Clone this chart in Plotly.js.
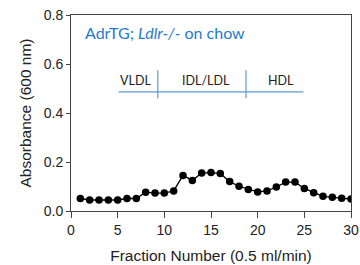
<!DOCTYPE html>
<html><head><meta charset="utf-8">
<script src="https://cdn.plot.ly/plotly-3.0.1.min.js"></script>
<style>html,body{margin:0;padding:0;background:#fff}#chart{width:360px;height:265px}</style>
</head><body><div id="chart"></div>
<script>
const fractions = [1,2,3,4,5,6,7,8,9,10,11,12,13,14,15,16,17,18,19,20,21,22,23,24,25,26,27,28,29,30];
const absorbance = [0.051,0.045,0.045,0.045,0.045,0.051,0.051,0.077,0.073,0.073,0.082,0.145,0.125,0.155,0.157,0.153,0.120,0.101,0.088,0.078,0.082,0.098,0.118,0.118,0.092,0.075,0.060,0.056,0.052,0.049];
const regionLabels = ['VLDL','IDL/LDL','HDL'];
const regionCenters = [6.9,14.5,22.5];
const regionBounds = [5.1,9.3,18.75,24.9];

const fig = {
  data: [{
    x: fractions, y: absorbance, type: 'scatter', mode: 'lines+markers',
    line: {color: '#000', width: 1.3},
    marker: {color: '#000', size: 7.5}
  }],
  layout: {
    width: 360, height: 265,
    margin: {l: 71, r: 9, t: 15, b: 54},
    paper_bgcolor: '#fff', plot_bgcolor: '#fff',
    showlegend: false,
    font: {family: 'Liberation Sans, Arial, sans-serif', color: '#222'},
    xaxis: {
      range: [0, 30], tickvals: [0,5,10,15,20,25,30], ticks: 'outside', ticklen: 6,
      showline: true, linecolor: '#444', linewidth: 1, mirror: true, showgrid: false, zeroline: false,
      tickfont: {size: 14, color: '#222'},
      title: {text: 'Fraction Number (0.5 ml/min)', font: {size: 15.5, color: '#222'}, standoff: 13}
    },
    yaxis: {
      range: [0, 0.8], tickvals: [0,0.2,0.4,0.6,0.8], ticktext: ['0.0','0.2','0.4','0.6','0.8'],
      ticks: 'outside', ticklen: 4,
      showline: true, linecolor: '#444', linewidth: 1, mirror: true, showgrid: false, zeroline: false,
      tickfont: {size: 14, color: '#222'},
      title: {text: 'Absorbance (600 nm)', font: {size: 15.5, color: '#222'}, standoff: 8}
    },
    shapes: [
      {type: 'line', xref: 'x', yref: 'y', x0: regionBounds[0], x1: regionBounds[3], y0: 0.486, y1: 0.486, line: {color: '#5B9BD5', width: 1.2}},
      {type: 'line', xref: 'x', yref: 'y', x0: regionBounds[1], x1: regionBounds[1], y0: 0.46, y1: 0.575, line: {color: '#5B9BD5', width: 1.2}},
      {type: 'line', xref: 'x', yref: 'y', x0: regionBounds[2], x1: regionBounds[2], y0: 0.46, y1: 0.575, line: {color: '#5B9BD5', width: 1.2}}
    ],
    annotations: regionLabels.map((t, i) => ({
      x: regionCenters[i], y: 0.532, xref: 'x', yref: 'y', text: t, showarrow: false,
      font: {family: 'Lato, sans-serif', size: 12.5, color: '#222'}
    })).concat([{
      x: 1.25, y: 0.73, xref: 'x', yref: 'y', xanchor: 'left', showarrow: false,
      text: 'AdrTG; <i>Ldlr-/-</i> on chow',
      font: {family: 'Lato, sans-serif', size: 16, color: '#1F7AD1'}
    }])
  }
};
Plotly.newPlot('chart', fig.data, fig.layout, {staticPlot: true, displayModeBar: false});
</script></body></html>
